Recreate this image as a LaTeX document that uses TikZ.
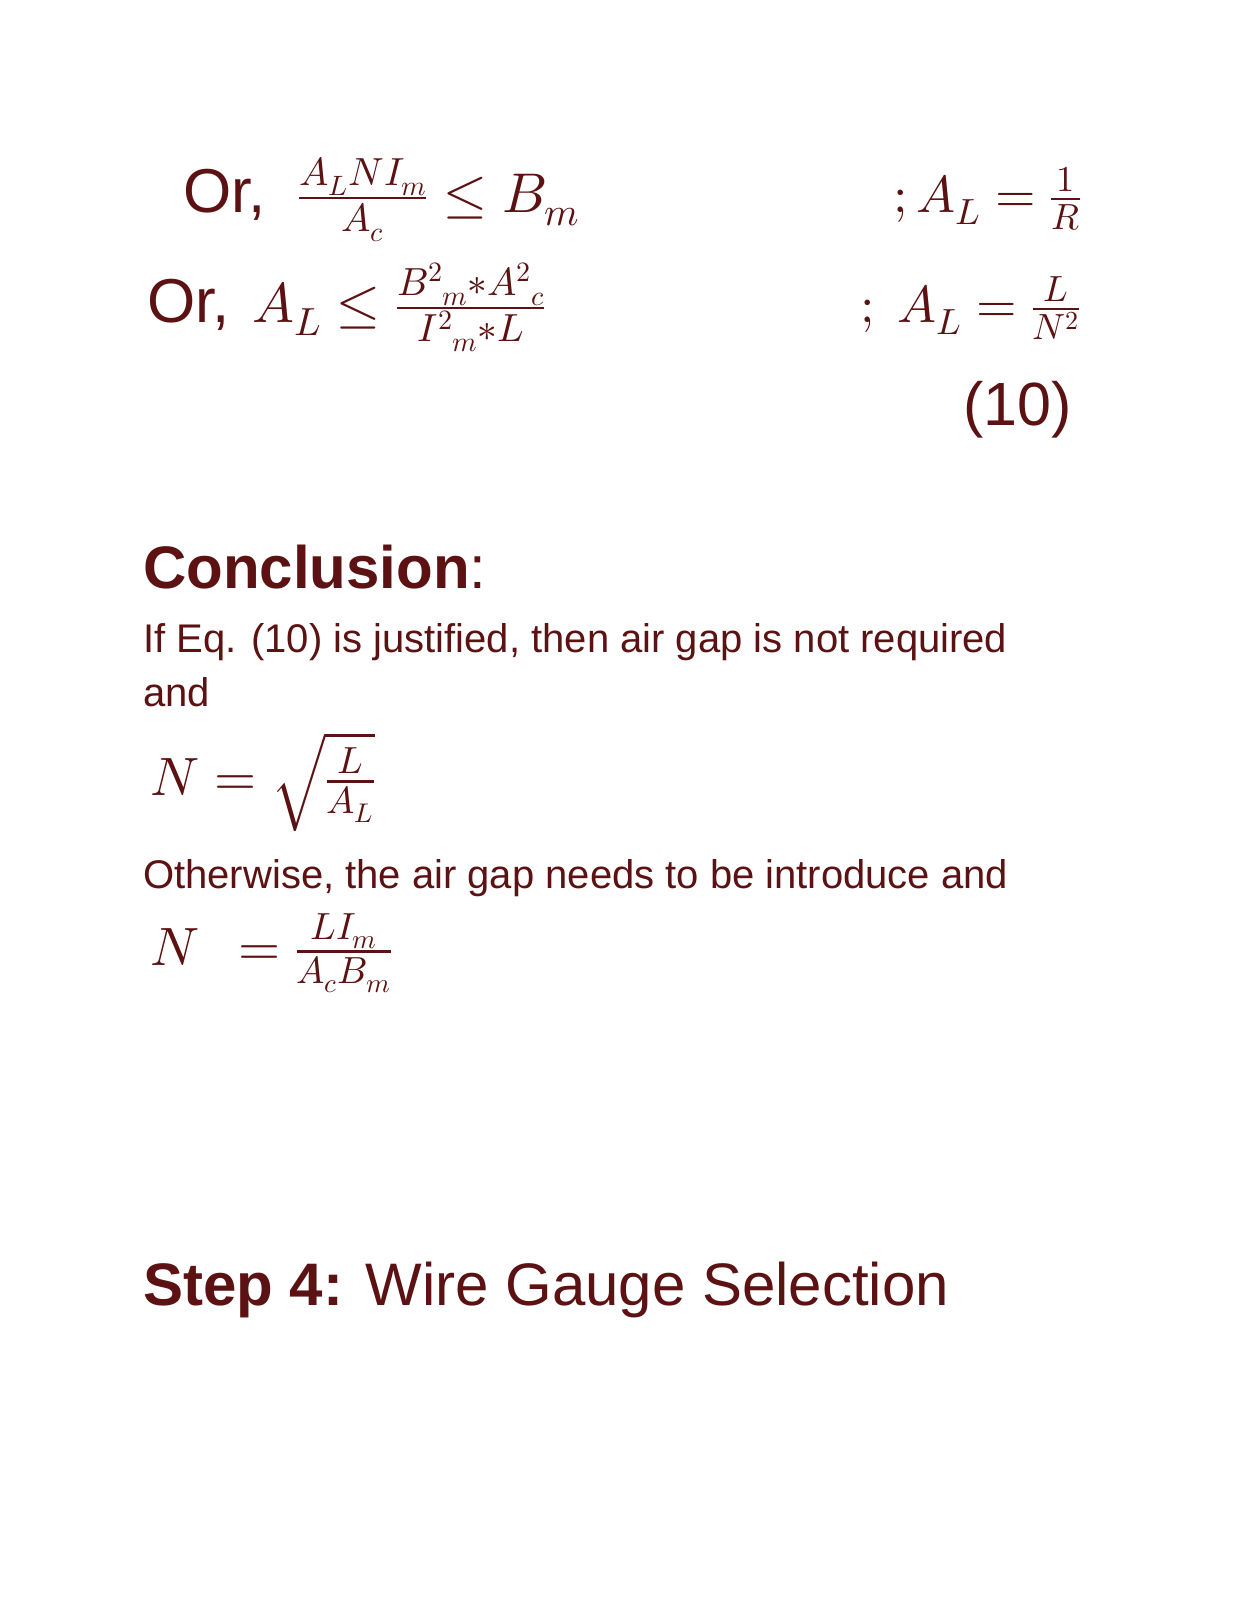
\documentclass[tikz,border=0pt]{standalone}
\usepackage{fontspec}
\usepackage{unicode-math}
\setmainfont{Liberation Sans}
\setmathfont{Latin Modern Math}
\definecolor{ink}{HTML}{5C1212}
\newcommand{\fs}[1]{\fontsize{#1pt}{#1pt}\selectfont}
\begin{document}
\begin{tikzpicture}[x=1pt,y=-1pt,every node/.style={anchor=base west,inner sep=0pt,text=ink}]
\useasboundingbox[fill=white] (0,0) rectangle (1237,1600);
\node (r1a) at (183,212) {\fs{62}Or,};
\node (r1b) at (298,212) {\fs{56}$\frac{A_LNI_m}{A_c}\leq B_m$};
\node (r1c) at (893,212) {\fs{52}$;A_L=\frac{1}{R}$};
\node (r2a) at (147,322) {\fs{62}Or,};
\node (r2b) at (252,322) {\fs{56}$A_L\leq\frac{B^2{}_m*A^2{}_c}{I^2{}_m*L}$};
\node (r2c) at (860,322) {\fs{52}$;\ A_L=\frac{L}{N^2}$};
\node (eq) at (963,425) {\fs{61}(10)};
\node (con) at (143,588) {\fs{60}\textbf{Conclusion}:};
\node (t1) at (143,652) {\fs{40}If Eq. (10) is justified, then air gap is not required};
\node (t2) at (143,706) {\fs{40}and};
\node (m1) at (150,795) {\fs{54}$N=\sqrt{\frac{L}{A_L}}$};
\node (t3) at (143,888) {\fs{40}Otherwise, the air gap needs to be introduce and};
\node (m2) at (150,965) {\fs{54}$N\ \,=\frac{LI_m}{A_cB_m}$};
\node (st) at (143,1305) {\fs{60}\textbf{Step 4:} Wire Gauge Selection};
\end{tikzpicture}
\end{document}
